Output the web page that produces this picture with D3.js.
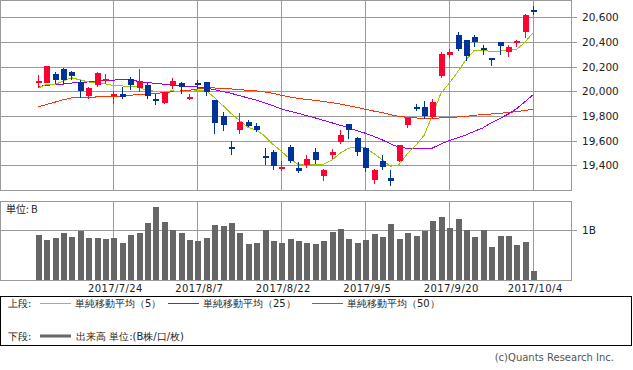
<!DOCTYPE html>
<html>
<head>
<meta charset="utf-8">
<script src="https://cdn.jsdelivr.net/npm/d3@7"></script>
<style>
  body { margin: 0; background: #fff; }
  svg { display: block; }
  text { font-family: "DejaVu Sans", sans-serif; }
  .jp { font-family: "Noto Sans CJK JP", sans-serif; }
</style>
</head>
<body>
<svg id="chart" width="633" height="370"></svg>
<script>
// trading days 2017/7/10 .. 2017/10/4
const dates = [
  "7/10","7/11","7/12","7/13","7/14","7/18","7/19","7/20","7/21","7/24",
  "7/25","7/26","7/27","7/28","7/31","8/1","8/2","8/3","8/4","8/7",
  "8/8","8/9","8/10","8/14","8/15","8/16","8/17","8/18","8/21","8/22",
  "8/23","8/24","8/25","8/28","8/29","8/30","8/31","9/1","9/4","9/5",
  "9/6","9/7","9/8","9/11","9/12","9/13","9/14","9/15","9/19","9/20",
  "9/21","9/22","9/25","9/26","9/27","9/28","9/29","10/2","10/3","10/4"
];
const open = [
  20076,20067,20138,20179,20155,20075,19954,20043,20088,19972,
  19976,20098,20024,20049,19935,19900,20049,20062,19948,20060,
  20068,19927,19792,19545,19684,19751,19711,19475,19508,19365,
  19548,19373,19395,19500,19313,19476,19581,19733,19621,19535,
  19279,19435,19297,19433,19724,19870,19865,19787,20122,20292,
  20454,20414,20436,20346,20267,20395,20311,20392,20473,20655
];
const high = [
  20130,20205,20157,20189,20165,20090,20033,20157,20138,20000,
  20035,20117,20184,20065,19982,19995,20111,20075,19975,20090,
  20075,19930,19832,19597,19824,19771,19743,19544,19522,19433,
  19562,19427,19481,19540,19368,19530,19690,19733,19630,19549,
  19368,19481,19360,19562,19784,19895,19922,19935,20319,20341,
  20481,20419,20454,20379,20273,20400,20373,20414,20630,20690
];
const low = [
  20030,20067,20057,20057,20093,19942,19940,20035,20062,19900,
  19941,20010,19998,19940,19887,19895,20018,19982,19928,20022,
  19960,19657,19678,19481,19651,19710,19670,19400,19365,19354,
  19419,19341,19378,19414,19270,19449,19570,19617,19476,19346,
  19252,19360,19232,19427,19706,19838,19779,19779,20111,20273,
  20327,20246,20359,20292,20203,20292,20278,20360,20432,20616
];
const close = [
  20078,20197,20089,20089,20116,19995,20022,20146,20099,19975,
  19950,20045,20079,19959,19925,19993,20081,20029,19952,20055,
  19987,19738,19725,19537,19751,19716,19684,19468,19387,19385,
  19427,19346,19449,19441,19360,19503,19643,19684,19503,19378,
  19360,19386,19265,19557,19779,19865,19792,19913,20300,20314,
  20338,20286,20392,20327,20263,20360,20354,20400,20616,20652
];
// volume, in B shares
const volume = [
  0.89,0.79,0.84,0.93,0.85,0.97,0.84,0.84,0.82,0.84,
  0.74,0.89,0.93,1.13,1.45,1.15,0.99,0.93,0.79,0.78,
  0.84,1.09,1.07,1.13,0.93,0.72,0.74,0.99,0.78,0.74,
  0.81,0.78,0.74,0.72,0.78,0.95,1.01,0.81,0.74,0.80,
  0.91,0.85,1.11,0.82,0.93,0.87,0.97,1.17,1.25,1.03,
  1.21,0.99,0.85,0.99,0.66,0.87,0.87,0.70,0.76,0.18
];
// moving averages
const ma5 = [
  20025,20054,20055,20081,20110,20093,20076,20071,20061,20046,
  20043,20042,20033,20008,20000,20000,20003,20000,20000,20004,
  20008,19952,19887,19822,19765,19708,19688,19639,19570,19514,
  19453,19408,19404,19408,19408,19441,19497,19538,19549,19542,
  19497,19445,19392,19404,19493,19562,19643,19806,19984,20065,
  20158,20256,20333,20333,20323,20326,20333,20338,20397,20476
];
const ma25 = [
  20035,20049,20054,20058,20067,20071,20076,20081,20087,20091,
  20093,20091,20081,20071,20065,20057,20049,20043,20038,20035,
  20027,20014,19998,19984,19965,19947,19930,19907,19883,19858,
  19838,19822,19802,19785,19765,19745,19725,19704,19680,19660,
  19635,19607,19574,19546,19538,19538,19538,19540,19573,19600,
  19623,19647,19676,19703,19745,19779,19814,19858,19915,19973
];
const ma50 = [
  19873,19892,19911,19931,19946,19949,19952,19954,19957,19960,
  19962,19968,19973,19978,19982,19990,19996,20003,20008,20019,
  20027,20027,20024,20019,20014,20008,20003,19995,19984,19968,
  19954,19943,19933,19927,19917,19909,19897,19884,19870,19854,
  19840,19827,19811,19797,19789,19784,19781,19781,19784,19787,
  19792,19797,19806,19811,19816,19822,19827,19836,19844,19854
];

const priceTicks = [19400, 19600, 19800, 20000, 20200, 20400, 20600];
const volTicks = [1];
const dateTickIdx = [9, 19, 29, 39, 49, 59];
const dateTickLabels = ["2017/7/24", "2017/8/7", "2017/8/22", "2017/9/5", "2017/9/20", "2017/10/4"];

const legendItems = [
  { label: "単純移動平均（5）", color: "#99cc00" },
  { label: "単純移動平均（25）", color: "#9900ff" },
  { label: "単純移動平均（50）", color: "#ff3300" }
];

const UP = "#ff0033", DOWN = "#003399", GRID = "#9a9a9a";

const svg = d3.select("#chart");
svg.append("rect").attr("width", 633).attr("height", 370).attr("fill", "#fff");

const plotL = 0.5, plotR = 571.5;
const x = d3.scaleLinear().domain([-4.5, 63.5]).range([0, 571]);
const y = d3.scaleLinear().domain([19200, 20740]).range([190, 0]);
const yv = d3.scaleLinear().domain([0, 1.55]).range([280, 202]);
const px = v => Math.round(v) + 0.5;

// ---- price panel grid
const g = svg.append("g").attr("shape-rendering", "crispEdges");
g.selectAll(".hgrid").data(priceTicks).enter().append("line")
  .attr("x1", plotL).attr("x2", 577)
  .attr("y1", d => px(y(d))).attr("y2", d => px(y(d)))
  .attr("stroke", GRID);
g.selectAll(".vgrid").data(dateTickIdx).enter().append("line")
  .attr("x1", d => px(x(d))).attr("x2", d => px(x(d)))
  .attr("y1", 0.5).attr("y2", 190.5)
  .attr("stroke", GRID);
g.append("rect").attr("x", plotL).attr("y", 0.5).attr("width", plotR - plotL).attr("height", 190)
  .attr("fill", "none").attr("stroke", GRID);

svg.selectAll(".ptick").data(priceTicks).enter().append("text")
  .attr("x", 582).attr("y", d => y(d) + 4)
  .attr("font-size", 10.5).attr("fill", "#222")
  .text(d => d3.format(",")(d));

// ---- moving averages
const idx = d3.range(dates.length);
const maLine = arr => d3.line().x(i => x(i)).y(i => y(arr[i]))(idx);
const maG = svg.append("g").attr("fill", "none").attr("stroke-width", 1).attr("shape-rendering", "crispEdges");
maG.append("path").attr("d", maLine(ma50)).attr("stroke", "#ff3300");
maG.append("path").attr("d", maLine(ma25)).attr("stroke", "#9900ff");
maG.append("path").attr("d", maLine(ma5)).attr("stroke", "#99cc00");

// ---- candles
const cg = svg.append("g").attr("shape-rendering", "crispEdges");
const candle = cg.selectAll("g").data(idx).enter().append("g");
candle.append("line")
  .attr("x1", i => px(x(i))).attr("x2", i => px(x(i)))
  .attr("y1", i => y(high[i])).attr("y2", i => y(low[i]))
  .attr("stroke", i => close[i] >= open[i] ? UP : DOWN);
candle.append("rect")
  .attr("x", i => Math.round(x(i)) - 2.5)
  .attr("width", 6)
  .attr("y", i => Math.min(y(open[i]), y(close[i])) - 0.5)
  .attr("height", i => Math.max(2, Math.abs(y(open[i]) - y(close[i]))))
  .attr("fill", i => close[i] >= open[i] ? UP : DOWN);

// ---- volume panel
const vg = svg.append("g").attr("shape-rendering", "crispEdges");
vg.selectAll(".vh").data(volTicks).enter().append("line")
  .attr("x1", plotL).attr("x2", 577)
  .attr("y1", d => px(yv(d))).attr("y2", d => px(yv(d)))
  .attr("stroke", GRID);
vg.selectAll(".vv").data(dateTickIdx).enter().append("line")
  .attr("x1", d => px(x(d))).attr("x2", d => px(x(d)))
  .attr("y1", 201.5).attr("y2", 280.5)
  .attr("stroke", GRID);
vg.selectAll(".bar").data(idx).enter().append("rect")
  .attr("x", i => Math.round(x(i)) - 2.5)
  .attr("width", 6)
  .attr("y", i => yv(volume[i]))
  .attr("height", i => yv(0) - yv(volume[i]))
  .attr("fill", "#666");
vg.append("rect").attr("x", plotL).attr("y", 201.5).attr("width", plotR - plotL).attr("height", 79)
  .attr("fill", "none").attr("stroke", GRID);

svg.selectAll(".vtick").data(volTicks).enter().append("text")
  .attr("x", 582).attr("y", d => yv(d) + 4)
  .attr("font-size", 10.5).attr("fill", "#222")
  .text(d => d + "B");
svg.append("text").attr("class", "jp").attr("x", 6).attr("y", 213)
  .attr("font-size", 10).attr("fill", "#222").text("単位: B");

// date labels
svg.selectAll(".dlab").data(dateTickIdx).enter().append("text")
  .attr("x", (d, k) => x(d) + 2).attr("y", 292)
  .attr("text-anchor", "middle").attr("font-size", 10).attr("letter-spacing", 0.4)
  .attr("fill", "#222")
  .text((d, k) => dateTickLabels[k]);

// ---- legend box
svg.append("rect").attr("x", 0.5).attr("y", 296.5).attr("width", 631).attr("height", 49)
  .attr("fill", "none").attr("stroke", "#000").attr("shape-rendering", "crispEdges");
const lg = svg.append("g").attr("class", "jp").attr("font-size", 10).attr("fill", "#222");
lg.append("text").attr("x", 8).attr("y", 307).text("上段:");
const legX = [40, 168, 312];
legendItems.forEach((d, k) => {
  lg.append("line").attr("x1", legX[k]).attr("x2", legX[k] + 31)
    .attr("y1", 303.5).attr("y2", 303.5).attr("stroke", d.color).attr("shape-rendering", "crispEdges");
  lg.append("text").attr("x", legX[k] + 35).attr("y", 307).text(d.label);
});
lg.append("text").attr("x", 8).attr("y", 340).text("下段:");
lg.append("line").attr("x1", 40).attr("x2", 71).attr("y1", 336).attr("y2", 336)
  .attr("stroke", "#666").attr("stroke-width", 3);
lg.append("text").attr("x", 76).attr("y", 340).text("出来高 単位:(B株/口/枚)");

svg.append("text").attr("x", 614).attr("y", 361).attr("text-anchor", "end")
  .attr("font-size", 10).attr("fill", "#555").text("(c)Quants Research Inc.");
</script>
</body>
</html>
